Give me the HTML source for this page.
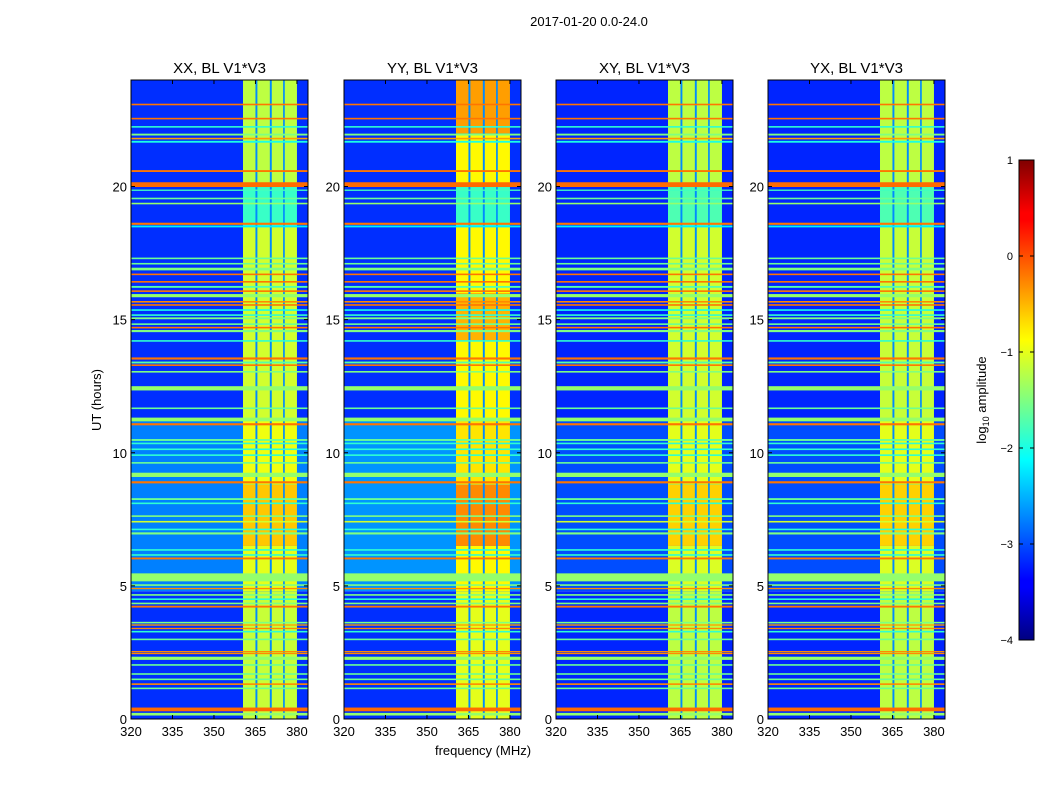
<!DOCTYPE html>
<html><head><meta charset="utf-8"><style>
body{margin:0;background:#fff;}
svg{display:block;font-family:"Liberation Sans",sans-serif;}
</style></head><body>
<svg id="fig" width="1050" height="800" viewBox="0 0 1050 800">
<rect width="1050" height="800" fill="#fff"/>
<text x="589" y="26" font-size="13" text-anchor="middle">2017-01-20 0.0-24.0</text>
<text x="483" y="755" font-size="13" text-anchor="middle">frequency (MHz)</text>
<text x="101" y="400" font-size="13" text-anchor="middle" transform="rotate(-90 101 400)">UT (hours)</text>
<defs><linearGradient id="jet" x1="0" y1="1" x2="0" y2="0">
<stop offset="0" stop-color="#000080"/><stop offset="0.11" stop-color="#0000ff"/><stop offset="0.125" stop-color="#0000ff"/><stop offset="0.34" stop-color="#00dcff"/><stop offset="0.375" stop-color="#00ffff"/><stop offset="0.5" stop-color="#80ff80"/><stop offset="0.625" stop-color="#ffff00"/><stop offset="0.66" stop-color="#ffe000"/><stop offset="0.875" stop-color="#ff0000"/><stop offset="0.89" stop-color="#ff0000"/><stop offset="1" stop-color="#800000"/>
</linearGradient></defs>
<g>
<rect x="1019" y="160" width="15" height="480" fill="url(#jet)" stroke="#000" stroke-width="1"/>
</g>
<text x="986" y="400" font-size="13" text-anchor="middle" transform="rotate(-90 986 400)">log<tspan font-size="9" dy="3">10</tspan><tspan dy="-3"> amplitude</tspan></text>
</svg>
<script>
// ---- data ----
const panelTitles = ["XX, BL V1*V3","YY, BL V1*V3","XY, BL V1*V3","YX, BL V1*V3"];
const xTicks = [320,335,350,365,380];
const yTicks = [0,5,10,15,20];
const cbTicks = [1,0,-1,-2,-3,-4];
// band columns [f0,f1] in MHz
const bandCols = [[360.5,365.0],[365.7,370.2],[370.9,375.0],[375.6,380.0]];
// horizontal RFI lines: [hour, thickness (hours), log10 amplitude]
const hLines = [
[23.08,0.06,-0.2],[22.55,0.06,-0.2],[22.24,0.06,-1.9],[21.95,0.07,-1.5],[21.8,0.06,-0.4],[21.68,0.07,-2.0],
[20.58,0.07,-0.2],[20.07,0.18,-0.15],[19.86,0.05,-1.8],[19.55,0.06,-1.6],[19.36,0.06,-1.4],
[18.6,0.08,-0.2],[18.5,0.07,-2.2],[17.3,0.06,-1.6],[17.1,0.06,-1.6],[16.9,0.1,-1.5],[16.7,0.06,-0.2],
[16.42,0.06,-0.2],[16.23,0.07,-1.7],[16.07,0.06,-0.2],[15.9,0.12,-1.4],[15.67,0.06,-0.3],[15.55,0.06,-0.2],
[15.36,0.06,-2.0],[15.17,0.06,-1.9],[15.05,0.07,-1.5],[14.83,0.06,-1.6],[14.7,0.06,-0.2],[14.57,0.08,-1.5],
[14.2,0.06,-1.9],[13.54,0.08,-0.2],[13.39,0.07,-1.7],[13.29,0.06,-0.2],[13.04,0.06,-1.5],[12.42,0.16,-1.4],
[11.67,0.06,-1.6],[11.25,0.14,-1.4],[11.07,0.08,-0.2],[10.48,0.07,-1.6],[10.35,0.06,-1.9],[10.13,0.06,-1.9],
[9.91,0.06,-1.9],[9.62,0.06,-1.6],[9.17,0.16,-1.4],[8.89,0.08,-0.2],[8.26,0.07,-1.6],[8.1,0.06,-1.9],
[7.62,0.06,-1.5],[7.41,0.06,-1.1],[7.12,0.06,-1.9],[6.97,0.08,-1.5],[6.35,0.06,-1.9],[6.16,0.06,-1.9],
[6.03,0.07,-0.2],[5.32,0.3,-1.4],[5.03,0.06,-1.5],[4.9,0.05,-0.3],[4.66,0.06,-1.5],[4.5,0.06,-1.9],
[4.34,0.06,-1.5],[4.22,0.07,-0.2],[3.62,0.06,-1.5],[3.53,0.05,-0.4],[3.4,0.05,-0.3],[3.28,0.06,-1.9],
[2.99,0.06,-1.6],[2.53,0.05,-0.3],[2.46,0.05,-0.3],[2.28,0.12,-1.4],[2.03,0.06,-1.6],[1.69,0.06,-1.6],
[1.49,0.06,-1.6],[1.31,0.06,-0.3],[1.15,0.06,-1.6],[0.36,0.14,-0.15],[0.18,0.1,-1.4]
];
// background segments per panel: [h0,h1,value]
const bgXX = [[0,4.8,-3.15],[4.8,11.2,-2.75],[11.2,24,-3.15]];
const bgYY = [[0,4.8,-3.15],[4.8,11.2,-2.65],[11.2,24,-3.15]];
const bgXY = [[0,4.8,-3.2],[4.8,11.2,-3.0],[11.2,24,-3.2]];
const bgYX = [[0,4.8,-3.2],[4.8,11.2,-3.0],[11.2,24,-3.2]];
// band interior segments per panel: [h0,h1,value]
const bandXX = [[0,4.8,-1.15],[4.8,6.5,-1.0],[6.5,8.8,-0.6],[8.8,11.2,-0.95],[11.2,18.5,-1.1],[18.5,20,-1.85],[20,24,-1.2]];
const bandYY = [[0,4.8,-1.0],[4.8,6.5,-0.85],[6.5,8.8,-0.3],[8.8,11.2,-0.75],[11.2,14.2,-0.85],[14.2,16,-0.5],[16,18.5,-0.85],[18.5,20,-1.85],[20,22,-0.85],[22,24,-0.4]];
const bandXY = [[0,4.8,-1.2],[4.8,6.5,-1.05],[6.5,8.8,-0.65],[8.8,11.2,-1.0],[11.2,18.5,-1.1],[18.5,20,-1.75],[20,24,-1.2]];
const bandYX = [[0,4.8,-1.2],[4.8,6.5,-1.05],[6.5,8.8,-0.65],[8.8,11.2,-1.0],[11.2,18.5,-1.15],[18.5,20,-1.75],[20,24,-1.2]];
const gapValue = -2.7;

const panelX = [131,344,556,768];
const bgs = [bgXX,bgYY,bgXY,bgYX];
const bands = [bandXX,bandYY,bandXY,bandYX];

// ---- helpers ----
const NS="http://www.w3.org/2000/svg";
const fig=document.getElementById('fig');
const PT=80,PB=719,PW=177,VMIN=-4,VMAX=1;
function ys(h){return PB-h*(PB-PT)/24;}
function cl(v){return Math.max(0,Math.min(1,v));}
function jet(v){const t=cl((v-VMIN)/(VMAX-VMIN));
 const r=cl(1.5-Math.abs(4*t-3)),g=cl(1.5-Math.abs(4*t-2)),b=cl(1.5-Math.abs(4*t-1));
 return `rgb(${Math.round(r*255)},${Math.round(g*255)},${Math.round(b*255)})`;}
function mk(tag,attrs,parent){const e=document.createElementNS(NS,tag);for(const k in attrs)e.setAttribute(k,attrs[k]);(parent||fig).appendChild(e);return e;}

panelX.forEach((x0,p)=>{
 const xs=f=>x0+(f-320)*PW/64;
 const g=mk('g',{});
 
 
 bgs[p].forEach(s=>{const r=mk('rect',{x:x0,y:ys(s[1]),width:PW,height:ys(s[0])-ys(s[1]),fill:jet(s[2])},g);
  
  });
 bands[p].forEach(s=>{
  const gr=mk('rect',{x:xs(bandCols[0][0]),y:ys(s[1]),width:xs(bandCols[3][1])-xs(bandCols[0][0]),height:ys(s[0])-ys(s[1]),fill:jet(gapValue)},g);
  
  
  bandCols.forEach(c=>{
   const r=mk('rect',{x:xs(c[0]),y:ys(s[1]),width:xs(c[1])-xs(c[0]),height:ys(s[0])-ys(s[1]),fill:jet(s[2])},g);
   
   
  });
 });
 hLines.forEach(l=>{
  const r=mk('rect',{x:x0,y:ys(l[0]+l[1]/2),width:PW,height:Math.max(1,ys(l[0]-l[1]/2)-ys(l[0]+l[1]/2)),fill:jet(l[2])},g);
  
  
 });
 const fr=mk('rect',{x:x0,y:PT,width:PW,height:PB-PT,fill:'none',stroke:'#000','stroke-width':1});
 
 
 const t=mk('text',{x:x0+PW/2,y:73,'font-size':15,'text-anchor':'middle'});
 t.textContent=panelTitles[p];
 
 
 xTicks.forEach(f=>{
  mk('line',{x1:xs(f),x2:xs(f),y1:PB,y2:PB-4,stroke:'#000'});
  mk('line',{x1:xs(f),x2:xs(f),y1:PT,y2:PT+4,stroke:'#000'});
  const tl=mk('text',{x:xs(f),y:736,'font-size':13,'text-anchor':'middle'});
  tl.textContent=f;
  
  
 });
 yTicks.forEach(h=>{
  mk('line',{x1:x0,x2:x0+4,y1:ys(h),y2:ys(h),stroke:'#000'});
  mk('line',{x1:x0+PW,x2:x0+PW-4,y1:ys(h),y2:ys(h),stroke:'#000'});
  const tl=mk('text',{x:x0-4,y:ys(h)+5,'font-size':13,'text-anchor':'end'});
  tl.textContent=h;
  
  
 });
});
cbTicks.forEach(v=>{
 const y=640-(v-VMIN)/(VMAX-VMIN)*480;
 mk('line',{x1:1019,x2:1023,y1:y,y2:y,stroke:'#000'});
 mk('line',{x1:1034,x2:1030,y1:y,y2:y,stroke:'#000'});
 const tl=mk('text',{x:1013,y:y+4,'font-size':11,'text-anchor':'end'});
 tl.textContent=v<0?'\u2212'+(-v):v;
 
 
});
</script>
</body></html>
